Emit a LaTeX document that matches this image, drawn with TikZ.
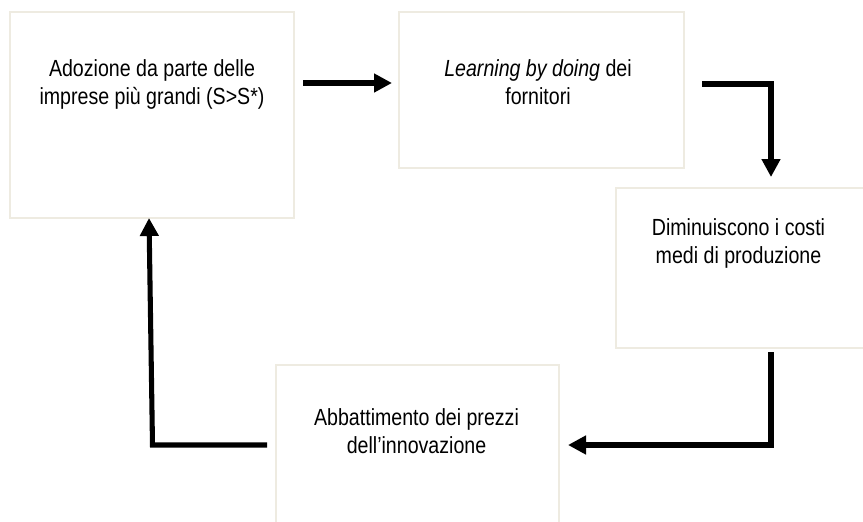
\documentclass[tikz,border=0pt]{standalone}
\usepackage{fontspec}
\setmainfont{Liberation Sans}[FakeStretch=0.84]
\usetikzlibrary{arrows.meta}
\definecolor{boxline}{HTML}{EEEBE1}
\tikzset{
  stepbox/.style={draw=boxline, line width=1.1pt, fill=white},
  boxtext/.style={align=center, inner sep=0pt, anchor=base,
    font=\fontsize{17.5pt}{21pt}\selectfont},
  flow/.style={line width=3.8pt, line join=miter,
    -{Triangle[length=13.5pt, width=13.5pt]}}
}
\begin{document}
\begin{tikzpicture}[x=0.75pt, y=-0.75pt]
  \useasboundingbox (0,0) rectangle (863,521);

  % boxes
  \draw[stepbox] (10,12) rectangle (294,218) coordinate (A);
  \draw[stepbox] (399,12) rectangle (684,168) coordinate (B);
  \draw[stepbox] (616,188) rectangle (875,348) coordinate (C);
  \draw[stepbox] (276,365) rectangle (559,540) coordinate (D);

  % box labels (anchored on the baseline of their last line)
  \node[boxtext] (tA) at (152,104) {Adozione da parte delle\\imprese più grandi (S>S*)};
  \node[boxtext] (tB) at (538,104) {\textit{Learning by doing} dei\\fornitori};
  \node[boxtext] (tC) at (738.5,263) {Diminuiscono i costi\\medi di produzione};
  \node[boxtext] (tD) at (416.5,453) {Abbattimento dei prezzi\\dell’innovazione};

  % connector points
  \coordinate (a1s) at (303,83);
  \coordinate (a1e) at (392,83);
  \coordinate (a2s) at (702,84);
  \coordinate (a2k) at (771,84);
  \coordinate (a2e) at (771,177);
  \coordinate (a3s) at (771,352);
  \coordinate (a3k) at (771,445);
  \coordinate (a3e) at (568,445);
  \coordinate (a4s) at (267,445);
  \coordinate (a4k) at (152.5,445);
  \coordinate (a4e) at (149,218);

  % cycle of arrows
  \draw[flow] (a1s) -- (a1e);
  \draw[flow] (a2s) -- (a2k) -- (a2e);
  \draw[flow] (a3s) -- (a3k) -- (a3e);
  \draw[flow] (a4s) -- (a4k) -- (a4e);
\end{tikzpicture}
\end{document}
